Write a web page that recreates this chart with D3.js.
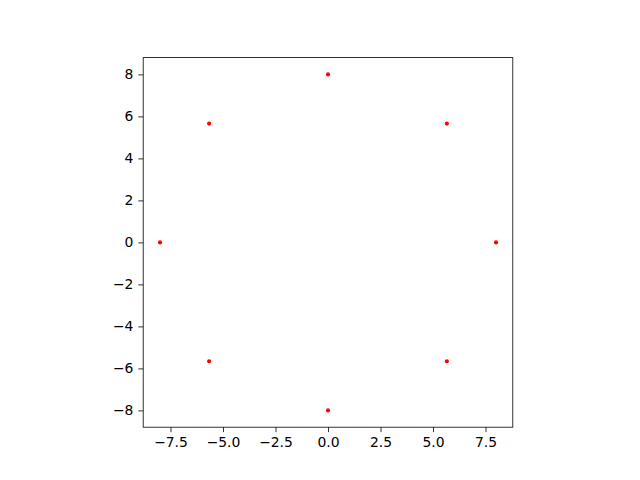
<!DOCTYPE html>
<html>
<head>
<meta charset="utf-8">
<script src="https://cdn.jsdelivr.net/npm/d3@7"></script>
<style>
  body { margin: 0; background: #fff; }
  text { font-family: "DejaVu Sans", sans-serif; }
</style>
</head>
<body>
<div id="chart"></div>
<script>
// 点的数据（圆上8个点）
const xs = [0, 5.66, 8, 5.66, 0, -5.66, -8, -5.66];
const ys = [8, 5.66, 0, -5.66, -8, -5.66, 0, 5.66];
const xTicks = [-7.5, -5.0, -2.5, 0.0, 2.5, 5.0, 7.5];
const yTicks = [-8, -6, -4, -2, 0, 2, 4, 6, 8];

const width = 640, height = 480;
// 坐标区（等比例，正方形）
const plotTop = 57.6, plotBottom = 427.2;
const side = plotBottom - plotTop;
const plotLeft = 328 - side / 2, plotRight = 328 + side / 2;

const svg = d3.select("#chart").append("svg")
  .attr("width", width)
  .attr("height", height);

const x = d3.scaleLinear().domain([-8.8, 8.8]).range([plotLeft, plotRight]);
const y = d3.scaleLinear().domain([-8.8, 8.8]).range([plotBottom, plotTop]);

const fmtX = d => d3.format(".1f")(d).replace("-", "\u2212");
const fmtY = d => d3.format("d")(d).replace("-", "\u2212");

const xAxis = svg.append("g")
  .attr("transform", "translate(0," + plotBottom + ")")
  .call(d3.axisBottom(x).tickValues(xTicks).tickFormat(fmtX).tickSizeOuter(0).tickSize(4.9).tickPadding(4.9));

const yAxis = svg.append("g")
  .attr("transform", "translate(" + plotLeft + ",0)")
  .call(d3.axisLeft(y).tickValues(yTicks).tickFormat(fmtY).tickSizeOuter(0).tickSize(4.9).tickPadding(4.9));

[xAxis, yAxis].forEach(g => {
  g.select(".domain").remove();
  g.selectAll("line").attr("stroke", "#000").attr("stroke-width", 0.8);
  g.selectAll("text").attr("fill", "#000").style("font-size", "13.9px")
    .style("font-family", "DejaVu Sans, sans-serif");
});

// 边框
svg.append("rect")
  .attr("x", plotLeft).attr("y", plotTop)
  .attr("width", side).attr("height", side)
  .attr("fill", "none")
  .attr("stroke", "#000")
  .attr("stroke-width", 0.8);

svg.append("g").selectAll("circle")
  .data(xs.map((v, i) => ({ x: v, y: ys[i] })))
  .enter().append("circle")
  .attr("cx", d => x(d.x))
  .attr("cy", d => y(d.y))
  .attr("r", 2.1)
  .attr("fill", "red");
</script>
</body>
</html>
